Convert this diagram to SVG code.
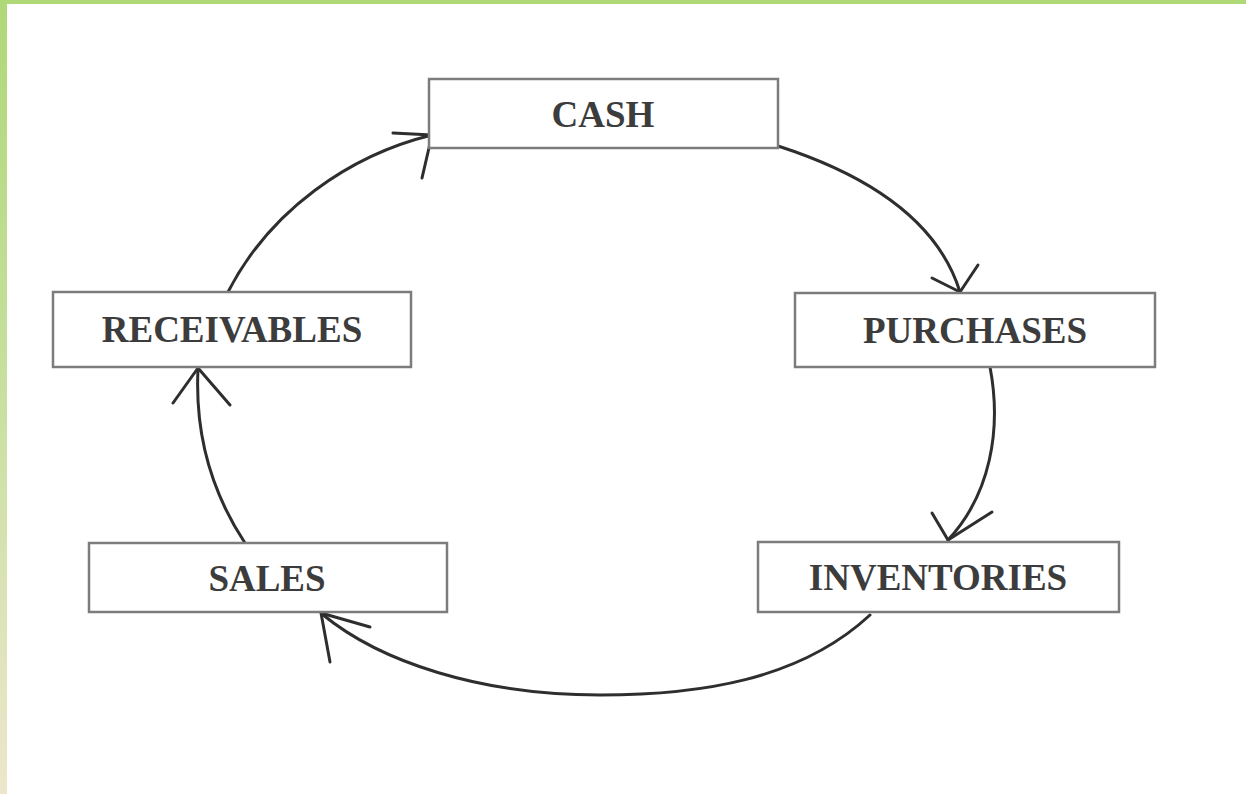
<svg xmlns="http://www.w3.org/2000/svg" width="1246" height="794" viewBox="0 0 1246 794">
  <defs>
    <linearGradient id="side" x1="0" y1="0" x2="0" y2="1">
      <stop offset="0" stop-color="#afd877"/>
      <stop offset="0.5" stop-color="#c8e0a0"/>
      <stop offset="1" stop-color="#ede6cc"/>
    </linearGradient>
    <style>
      .box { fill: #ffffff; stroke: #7c7c7c; stroke-width: 2.5; }
      .lbl { font-family: "Liberation Serif", "Times New Roman", serif; font-weight: bold; font-size: 37px; fill: #3c3c3c; text-anchor: middle; }
      .arc { fill: none; stroke: #2e2e2e; stroke-width: 3; stroke-linecap: round; stroke-linejoin: round; }
    </style>
  </defs>
  <rect x="0" y="0" width="1246" height="794" fill="#ffffff"/>
  <rect x="0" y="0" width="1246" height="4" fill="#afd877"/>
  <rect x="0" y="0" width="7" height="794" fill="url(#side)"/>

  <g id="connectors">
    <path class="arc" d="M778,146 Q930,195 960,292"/>
    <path class="arc" d="M932,278 L960,292 L978,265"/>
    <path class="arc" d="M990,367 C1002,430 990,495 948,540"/>
    <path class="arc" d="M932,513 L948,540 L992,512"/>
    <path class="arc" d="M870,615 C800,680 700,695 600,695 C480,695 380,662 322,614"/>
    <path class="arc" d="M330,662 L321,613 L370,627"/>
    <path class="arc" d="M245,543 C210,490 195,430 198,369"/>
    <path class="arc" d="M173,403 L198,368 L230,405"/>
    <path class="arc" d="M228,292 C270,210 350,155 432,135"/>
    <path class="arc" d="M393,133 L432,135 L422,178"/>
  </g>

  <g id="node-cash">
    <rect class="box" x="429" y="79" width="349" height="69"/>
    <text class="lbl" x="603" y="127">CASH</text>
  </g>
  <g id="node-purchases">
    <rect class="box" x="795" y="293" width="360" height="74"/>
    <text class="lbl" x="975" y="343">PURCHASES</text>
  </g>
  <g id="node-inventories">
    <rect class="box" x="758" y="542" width="361" height="70"/>
    <text class="lbl" x="938" y="590">INVENTORIES</text>
  </g>
  <g id="node-sales">
    <rect class="box" x="89" y="543" width="358" height="69"/>
    <text class="lbl" x="267" y="591">SALES</text>
  </g>
  <g id="node-receivables">
    <rect class="box" x="53" y="292" width="358" height="75"/>
    <text class="lbl" x="232" y="342">RECEIVABLES</text>
  </g>
</svg>
